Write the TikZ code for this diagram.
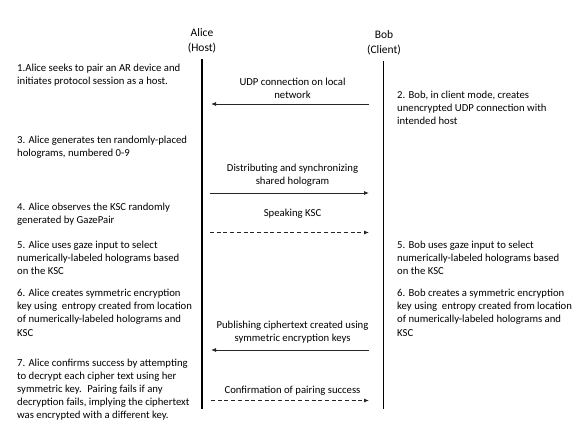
\documentclass[tikz,border=0pt]{standalone}
\usepackage{fontspec}
\setmainfont{Carlito}
\usetikzlibrary{arrows.meta}
\begin{document}
\begin{tikzpicture}[x=1pt,y=-1pt,
  txt/.style={anchor=base west,align=left,inner sep=0pt,font=\fontsize{10.7}{13.2}\selectfont},
  lbl/.style={anchor=base,align=center,inner sep=0pt,font=\fontsize{10.7}{13}\selectfont},
  head/.style={anchor=base,align=center,inner sep=0pt,font=\fontsize{11.5}{14.5}\selectfont},
  life/.style={line width=1.1pt,black},
  msg/.style={line width=0.8pt,draw=black!85,-{Latex[length=5pt,width=4pt]}},
  dmsg/.style={msg,dash pattern=on 4pt off 2.7pt}]
\useasboundingbox (0,0) rectangle (585,423);
% headers (base = last line)
\node[head] (alice) at (202,51) {Alice\\(Host)};
\node[head] (bob) at (384,53) {Bob\\(Client)};
\coordinate (aTop) at (202,59);
\coordinate (aBot) at (202,408.5);
\coordinate (bTop) at (383.5,61);
\coordinate (bBot) at (383.5,408.5);
\draw[life] (aTop) -- (aBot);
\draw[life] (bTop) -- (bBot);
% left texts (base = last line)
\node[txt] (t1) at (17,{71.5+13.2}) {1.Alice seeks to pair an AR device and\\initiates protocol session as a host.};
\node[txt] (t3) at (17,{143.5+13.2}) {3. Alice generates ten randomly-placed\\holograms, numbered 0-9};
\node[txt] (t4) at (17,{210+13.2}) {4. Alice observes the KSC randomly\\generated by GazePair};
\node[txt] (t5) at (17,{248.5+2*13.2}) {5. Alice uses gaze input to select\\numerically-labeled holograms based\\on the KSC};
\node[txt] (t6) at (17,{296.5+3*13.2}) {6. Alice creates symmetric encryption\\key using~ entropy created from location\\of numerically-labeled holograms and\\KSC};
\node[txt] (t7) at (17,{366+4*13.2}) {7. Alice confirms success by attempting\\to decrypt each cipher text using her\\symmetric key.~ Pairing fails if any\\decryption fails, implying the ciphertext\\was encrypted with a different key.};
% right texts
\node[txt] (t2) at (397,{98.5+2*13.2}) {2. Bob, in client mode, creates\\unencrypted UDP connection with\\intended host};
\node[txt] (u5) at (397,{248.5+2*13.2}) {5. Bob uses gaze input to select\\numerically-labeled holograms based\\on the KSC};
\node[txt] (u6) at (397,{296.5+3*13.2}) {6. Bob creates a symmetric encryption\\key using~ entropy created from location\\of numerically-labeled holograms and\\KSC};
% message labels
\node[lbl] (m1) at (292.5,{85+13}) {UDP connection on local\\network};
\node[lbl] (m2) at (292.5,{171.5+13}) {Distributing and synchronizing\\shared hologram};
\node[lbl] (m3) at (292.5,216.5) {Speaking KSC};
\node[lbl] (m4) at (292.5,{328.5+12.5}) {Publishing ciphertext created using\\symmetric encryption keys};
\node[lbl] (m5) at (292.5,393.5) {Confirmation of pairing success};
% message endpoints
\coordinate (a1) at (211,104);   \coordinate (b1) at (369,104);
\coordinate (a2) at (210,193);   \coordinate (b2) at (369,193);
\coordinate (a3) at (210,232.5); \coordinate (b3) at (369,232.5);
\coordinate (a4) at (211,350);   \coordinate (b4) at (369,350);
\coordinate (a5) at (211,400.5); \coordinate (b5) at (369,400.5);
\draw[msg] (b1) -- (a1);
\draw[msg] (a2) -- (b2);
\draw[dmsg] (a3) -- (b3);
\draw[msg] (b4) -- (a4);
\draw[dmsg] (a5) -- (b5);
\end{tikzpicture}
\end{document}
